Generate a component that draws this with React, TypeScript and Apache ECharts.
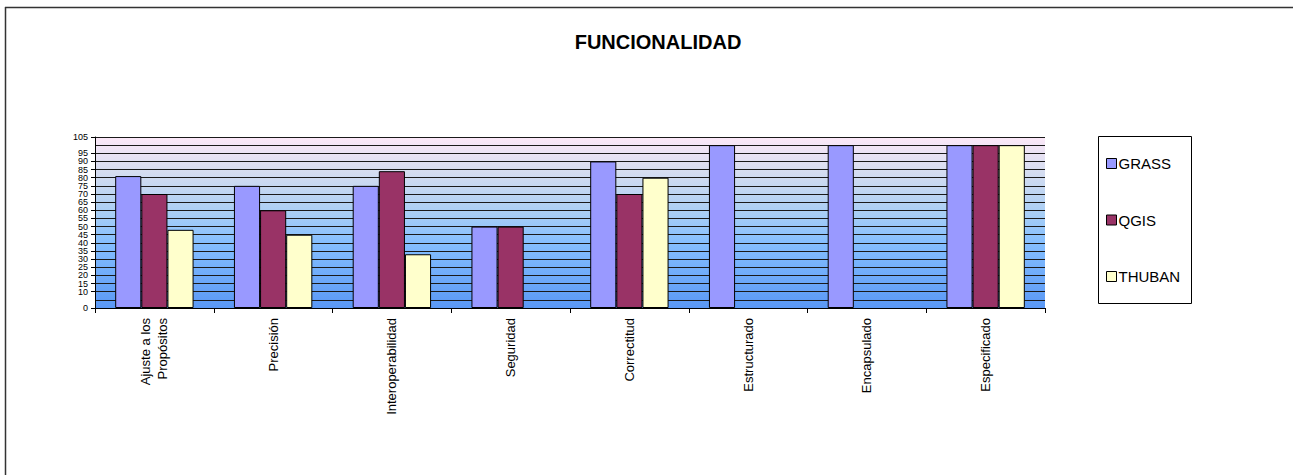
import React, { useEffect, useRef } from "react";
import * as echarts from "echarts";

const categories = [
  "Ajuste a los\nPropósitos",
  "Precisión",
  "Interoperabilidad",
  "Seguridad",
  "Correctitud",
  "Estructurado",
  "Encapsulado",
  "Especificado",
];
const grassValues = [81, 75, 75, 50, 90, 100, 100, 100];
const qgisValues = [70, 60, 84, 50, 70, 0, 0, 100];
const thubanValues = [48, 45, 33, 0, 80, 0, 0, 100];
const seriesNames = ["GRASS", "QGIS", "THUBAN"];
const title = "FUNCIONALIDAD";

const FONT = "Arial, 'Liberation Sans', sans-serif";

export default function App() {
  const ref = useRef<HTMLDivElement>(null);
  useEffect(() => {
    if (!ref.current) return;
    const chart = echarts.init(ref.current, undefined, { renderer: "svg" });
    const bar = (name: string, data: number[], color: string) => ({
      name,
      type: "bar",
      data: data.map((v) => (v === 0 ? null : v)),
      barGap: "0%",
      barCategoryGap: "34%",
      itemStyle: { color, borderColor: "#000", borderWidth: 1 },
    });
    chart.setOption({
      animation: false,
      backgroundColor: "#fff",
      title: {
        text: title,
        left: 653,
        textAlign: "center",
        top: 27,
        textStyle: { fontFamily: FONT, fontSize: 20, fontWeight: "bold", color: "#000" },
      },
      graphic: [
        { type: "line", shape: { x1: 5, y1: 7.5, x2: 1293, y2: 7.5 }, style: { stroke: "#333", lineWidth: 1.5 } },
        { type: "line", shape: { x1: 5.5, y1: 7, x2: 5.5, y2: 475 }, style: { stroke: "#333", lineWidth: 1.5 } },
        { type: "rect", shape: { x: 1098.5, y: 136.5, width: 93, height: 167 }, style: { fill: "#fff", stroke: "#000", lineWidth: 1 }, z: -1 },
      ],
      legend: {
        orient: "vertical",
        left: 1106,
        top: 155,
        itemGap: 39.5,
        itemWidth: 10,
        itemHeight: 10,
        icon: "rect",
        padding: 0,
        textStyle: { fontFamily: FONT, fontSize: 15, lineHeight: 17, color: "#000", padding: [0, 0, 0, -3] },
        itemStyle: { borderColor: "#000", borderWidth: 1 },
        data: seriesNames,
      },
      grid: {
        left: 95,
        right: 249,
        top: 137,
        bottom: 167,
        show: true,
        borderWidth: 0,
        backgroundColor: new echarts.graphic.LinearGradient(0, 0, 0, 1, [
          { offset: 0, color: "#FCE8F8" },
          { offset: 0.2, color: "#D6DDF0" },
          { offset: 0.45, color: "#A8CEF5" },
          { offset: 0.62, color: "#85BFFF" },
          { offset: 1, color: "#5A98F5" },
        ]),
      },
      xAxis: {
        type: "category",
        data: categories,
        axisLine: { lineStyle: { color: "#000", width: 1 } },
        axisTick: { show: true, alignWithLabel: false, length: 5, lineStyle: { color: "#000" } },
        axisLabel: {
          rotate: 90,
          interval: 0,
          margin: 10,
          fontFamily: FONT,
          fontSize: 13,
          color: "#000",
          lineHeight: 17,
          align: "right",
        },
      },
      yAxis: {
        type: "value",
        min: 0,
        max: 105,
        interval: 5,
        axisLine: { show: true, lineStyle: { color: "#000", width: 1 } },
        axisTick: { show: true, length: 4, lineStyle: { color: "#000" } },
        axisLabel: {
          fontFamily: FONT,
          fontSize: 9,
          lineHeight: 8,
          color: "#000",
          margin: 7,
          showMinLabel: true,
          showMaxLabel: true,
          hideOverlap: false,
        },
        splitLine: { show: true, lineStyle: { color: "#1a1a1a", width: 1 } },
      },
      series: [
        bar(seriesNames[0], grassValues, "#9999FF"),
        bar(seriesNames[1], qgisValues, "#993366"),
        bar(seriesNames[2], thubanValues, "#FFFFCC"),
      ],
    });
    return () => chart.dispose();
  }, []);
  return (
    <div
      ref={ref}
      style={{ position: "fixed", left: 0, top: 0, width: 1294, height: 475 }}
    />
  );
}
